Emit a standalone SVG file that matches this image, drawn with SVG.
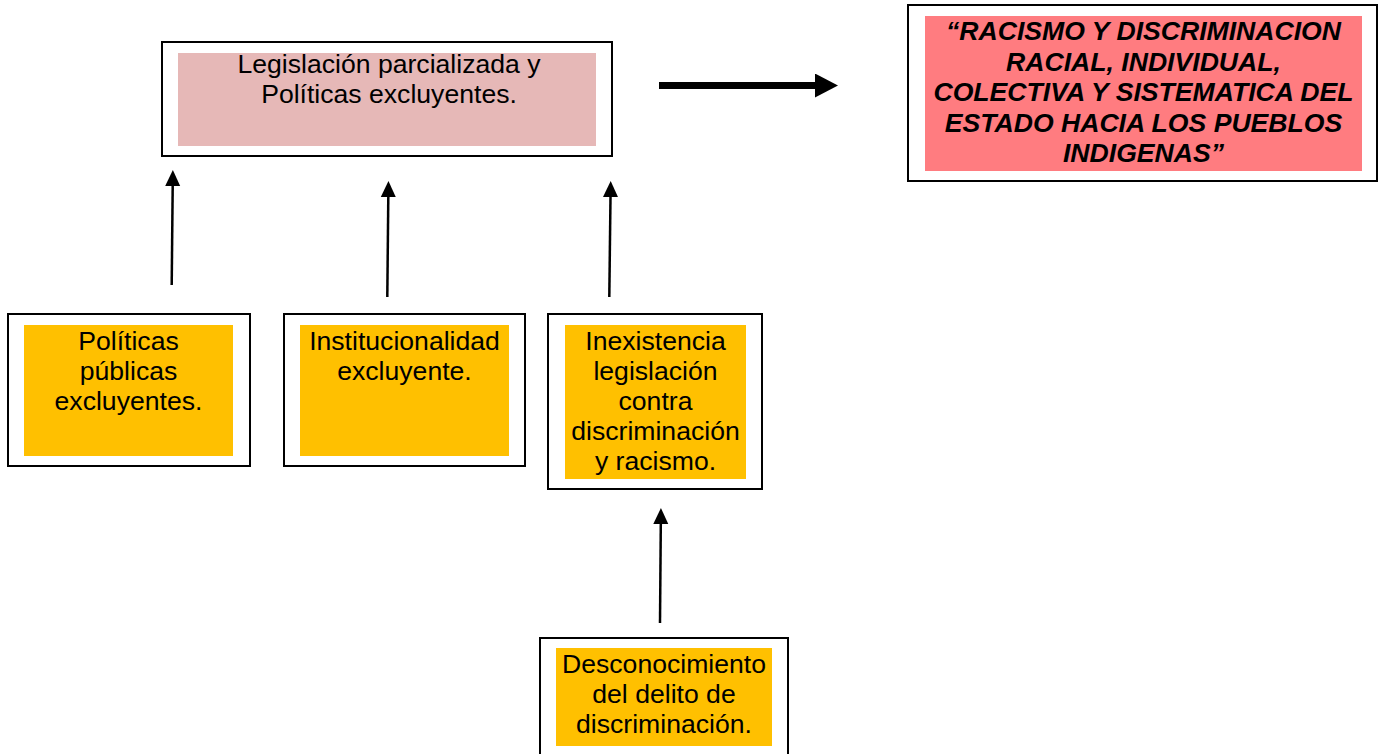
<svg xmlns="http://www.w3.org/2000/svg" width="1385" height="754" viewBox="0 0 1385 754">
<style>
.frame{fill:#fff;stroke:#000;stroke-width:2}
.orange{fill:#FFC000}
.pink{fill:#E6B8B7}
.salmon{fill:#FF7C80}
.t{font-family:"Liberation Sans",Arial,sans-serif;font-size:26.6px;fill:#000;text-anchor:middle}
.title{font-weight:bold;font-style:italic}
.thin{stroke:#000;stroke-width:2.5;fill:none}
.thick{stroke:#000;stroke-width:7;fill:none}
</style>
<defs>
<marker id="ah" markerUnits="userSpaceOnUse" markerWidth="16" markerHeight="16" refX="0" refY="7.5" orient="auto" viewBox="0 0 16 15">
<path d="M0,0 L16,7.5 L0,15 z" fill="#000"/>
</marker>
<marker id="ahBig" markerUnits="userSpaceOnUse" markerWidth="23" markerHeight="24" refX="0" refY="12" orient="auto" viewBox="0 0 23 24">
<path d="M0,0 L23,12 L0,24 z" fill="#000"/>
</marker>
</defs>
<rect width="1385" height="754" fill="#fff"/>
<g id="connectors">
<line class="thin" x1="171.7" y1="285" x2="172.7" y2="186" marker-end="url(#ah)"/>
<line class="thin" x1="387.3" y1="297" x2="388.3" y2="197" marker-end="url(#ah)"/>
<line class="thin" x1="609.3" y1="297" x2="610.5" y2="197" marker-end="url(#ah)"/>
<line class="thin" x1="660" y1="623" x2="660.8" y2="524" marker-end="url(#ah)"/>
<line class="thick" x1="659" y1="85.5" x2="815" y2="85.5" marker-end="url(#ahBig)"/>
</g>
<g id="legislacion">
<rect class="frame" x="162" y="42" width="450" height="114"/>
<rect class="pink" x="178" y="53" width="418" height="93"/>
<text class="t" x="389" y="73">Legislación parcializada y</text>
<text class="t" x="389" y="103">Políticas excluyentes.</text>
</g>
<g id="racismo">
<rect class="frame" x="908" y="5" width="469" height="176"/>
<rect class="salmon" x="925" y="16" width="437" height="155"/>
<text class="t title" x="1143.5" y="40">“RACISMO Y DISCRIMINACION</text>
<text class="t title" x="1143.5" y="70.5">RACIAL, INDIVIDUAL,</text>
<text class="t title" x="1143.5" y="101">COLECTIVA Y SISTEMATICA DEL</text>
<text class="t title" x="1143.5" y="131.5">ESTADO HACIA LOS PUEBLOS</text>
<text class="t title" x="1143.5" y="162">INDIGENAS”</text>
</g>
<g id="politicas">
<rect class="frame" x="8" y="314" width="242" height="152"/>
<rect class="orange" x="24" y="325" width="209" height="131"/>
<text class="t" x="128.5" y="350">Políticas</text>
<text class="t" x="128.5" y="380">públicas</text>
<text class="t" x="128.5" y="410">excluyentes.</text>
</g>
<g id="institucionalidad">
<rect class="frame" x="284" y="314" width="241" height="152"/>
<rect class="orange" x="300" y="325" width="209" height="131"/>
<text class="t" x="404.5" y="350">Institucionalidad</text>
<text class="t" x="404.5" y="380">excluyente.</text>
</g>
<g id="inexistencia">
<rect class="frame" x="548" y="314" width="214" height="175"/>
<rect class="orange" x="565" y="325" width="181" height="154"/>
<text class="t" x="655.5" y="350">Inexistencia</text>
<text class="t" x="655.5" y="380">legislación</text>
<text class="t" x="655.5" y="410">contra</text>
<text class="t" x="655.5" y="440">discriminación</text>
<text class="t" x="655.5" y="470">y racismo.</text>
</g>
<g id="desconocimiento">
<rect class="frame" x="540" y="638" width="248" height="130"/>
<rect class="orange" x="556" y="648" width="216" height="98"/>
<text class="t" x="664" y="673">Desconocimiento</text>
<text class="t" x="664" y="703">del delito de</text>
<text class="t" x="664" y="733">discriminación.</text>
</g>
</svg>
